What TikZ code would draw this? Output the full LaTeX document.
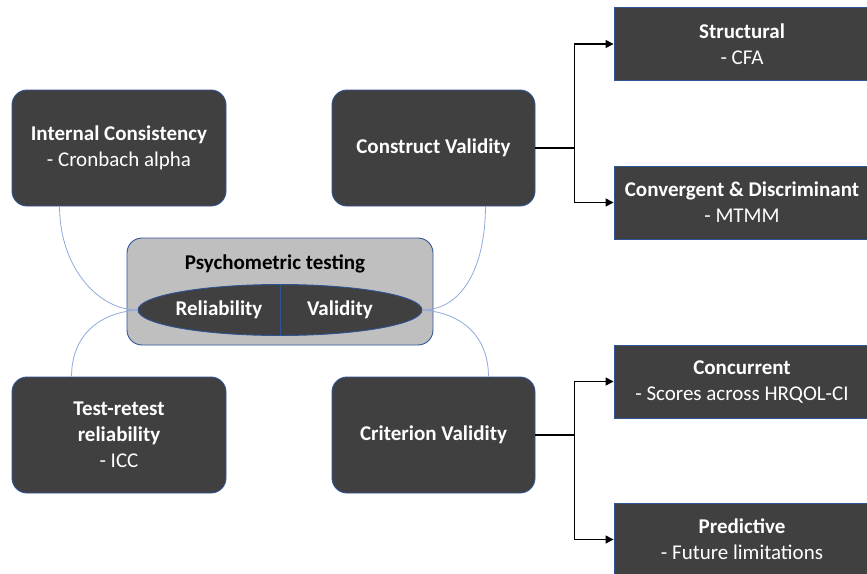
\documentclass[tikz,border=0pt]{standalone}
\usepackage{fontspec}
\setmainfont{Carlito}
\usetikzlibrary{shapes.geometric,arrows.meta,calc}
\definecolor{boxdark}{HTML}{404040}
\definecolor{boxedge}{HTML}{2F5597}
\definecolor{centergray}{HTML}{BFBFBF}
\definecolor{curveblue}{HTML}{8FAADC}
\begin{document}
\begin{tikzpicture}[x=1pt,y=-1pt,
  darkbox/.style={draw=boxedge,line width=0.9pt,fill=boxdark,rounded corners=15pt,
    text=white,align=center,inner sep=0pt,font=\fontsize{21}{26}\selectfont},
  sqbox/.style={draw=boxedge,line width=0.9pt,fill=boxdark,text=white,align=center,
    inner sep=0pt,minimum width=256pt,minimum height=73pt,font=\fontsize{21}{26}\selectfont},
  blink/.style={draw=curveblue,line width=0.8pt},
  conn/.style={draw=black,line width=1.4pt},
  arr/.style={conn,-{Triangle[length=8pt,width=8pt]}},
  lbl/.style={font=\fontsize{21}{26}\selectfont\bfseries,inner sep=0pt}
]
\useasboundingbox (0,0) rectangle (867,573);
% center group
\node[draw=boxedge,line width=0.9pt,fill=centergray,rounded corners=15pt,
  minimum width=306pt,minimum height=107pt,inner sep=0pt] (cbox) at (280,291.5) {};
\node[lbl,text=black] (ptitle) at (275,264) {Psychometric testing};
\node[ellipse,draw=boxedge,line width=0.9pt,fill=boxdark,minimum width=284pt,
  minimum height=51pt,inner sep=0pt] (ell) at (280,310) {};
\draw[boxedge,line width=0.9pt] (ell.north) -- (ell.south);
\node[lbl,text=white] (rel) at (219,310) {Reliability};
\node[lbl,text=white] (val) at (340,310) {Validity};
% four rounded boxes
\node[darkbox,minimum width=214pt,minimum height=116pt] (ic) at (119,148)
  {\textbf{Internal Consistency}\\- Cronbach alpha};
\node[darkbox,minimum width=203pt,minimum height=116pt] (cv) at (433.5,148)
  {\textbf{Construct Validity}};
\node[darkbox,minimum width=214pt,minimum height=116pt] (tr) at (119,435)
  {\textbf{Test-retest}\\\textbf{reliability}\\- ICC};
\node[darkbox,minimum width=203pt,minimum height=116pt] (crv) at (433.5,435)
  {\textbf{Criterion Validity}};
% right boxes
\node[sqbox] (st) at (742,44) {\textbf{Structural}\\- CFA};
\node[sqbox] (cd) at (742,202.5) {\textbf{Convergent \& Discriminant}\\- MTMM};
\node[sqbox] (cc) at (742,381.5) {\textbf{Concurrent}\\- Scores across HRQOL-CI};
\node[sqbox] (pr) at (742,539.5) {\textbf{Predictive}\\- Future limitations};
% blue curves
\draw[blink] ([xshift=48pt]ic.south west) .. controls +(0,60) and +(-40,0) .. (ell.west);
\draw[blink] (ell.west) .. controls +(-40,3) and +(0,-40) .. ([xshift=60pt]tr.north west);
\draw[blink] ([xshift=-50pt]cv.south east) .. controls +(0,60) and +(40,0) .. (ell.east);
\draw[blink] (ell.east) .. controls +(40,3) and +(0,-40) .. ([xshift=-47pt]crv.north east);
% black connectors
\draw[conn] (cv.east) -- ++(39,0) coordinate (j1);
\draw[arr] (j1) |- (st.west);
\draw[arr] (j1) |- (cd.west);
\draw[conn] (crv.east) -- ++(39,0) coordinate (j2);
\draw[arr] (j2) |- (cc.west);
\draw[arr] (j2) |- (pr.west);
\end{tikzpicture}
\end{document}
